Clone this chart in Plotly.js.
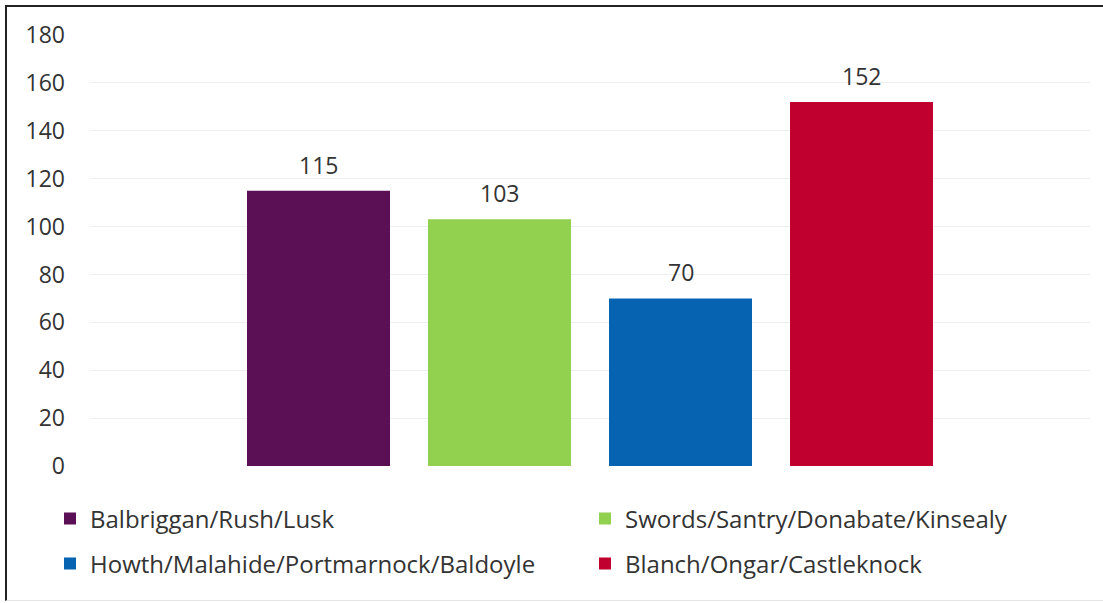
<!DOCTYPE html>
<html>
<head>
<meta charset="utf-8">
<script src="https://cdn.plot.ly/plotly-3.0.1.min.js"></script>
<style>
  html, body { margin: 0; padding: 0; background: #fff; }
  #wrap { position: relative; width: 1103px; height: 603px; overflow: hidden; }
  #chart { position: absolute; left: 0; top: 0; width: 1103px; height: 603px; }
  #frame { position: absolute; left: 5px; top: 5px; width: 1110px; height: 593px;
           border-left: 2px solid #222; border-top: 2px solid #222; border-bottom: 1px solid #e6e6e6;
           pointer-events: none; }
</style>
</head>
<body>
<div id="wrap">
  <div id="chart"></div>
  <div id="frame"></div>
</div>
<script>
// ---- data ----
const category = ['Fingal'];
const seriesNames = [
  'Balbriggan/Rush/Lusk',
  'Swords/Santry/Donabate/Kinsealy',
  'Howth/Malahide/Portmarnock/Baldoyle',
  'Blanch/Ongar/Castleknock'
];
const seriesValues = [115, 103, 70, 152];
const seriesColors = ['#5B0F55', '#92D050', '#0563B1', '#C0002F'];
const yTickValues = [0, 20, 40, 60, 80, 100, 120, 140, 160, 180];

// ---- chart ----
const FONT = 'Open Sans, sans-serif';
const TEXT = '#333333';
const bargap = 0.276;
const n = seriesValues.length;
const legendIds = ['legend', 'legend2', 'legend3', 'legend4'];

const traces = seriesValues.map((v, i) => ({
  type: 'bar',
  name: seriesNames[i],
  x: category,
  y: [v],
  marker: { color: seriesColors[i] },
  legend: legendIds[i],
  hoverinfo: 'name+y'
}));

const annotations = seriesValues.map((v, i) => ({
  xref: 'x', yref: 'y',
  x: (i - (n - 1) / 2) * (1 - bargap) / n,
  y: v,
  text: String(v),
  showarrow: false,
  yanchor: 'middle',
  yshift: 26,
  font: { family: FONT, size: 23, color: TEXT }
}));

const legendCommon = {
  orientation: 'h',
  xref: 'container', yref: 'container',
  xanchor: 'left', yanchor: 'middle',
  font: { family: FONT, size: 24, color: TEXT },
  bgcolor: 'rgba(0,0,0,0)',
  itemclick: false, itemdoubleclick: false
};
// legend slots: two columns, two rows
const legendCols = [50, 585];
const legendRows = [519, 564];

const layout = {
  width: 1103, height: 603,
  margin: { l: 90, r: 13, t: 35, b: 137, pad: 0 },
  paper_bgcolor: '#ffffff',
  plot_bgcolor: '#ffffff',
  barmode: 'group',
  bargap: bargap,
  bargroupgap: 0.21,
  showlegend: true,
  font: { family: FONT, color: TEXT },
  xaxis: {
    type: 'category',
    showticklabels: false,
    showgrid: false,
    zeroline: false,
    showline: false,
    ticks: ''
  },
  yaxis: {
    range: [0, 180],
    tickvals: yTickValues,
    ticktext: yTickValues.map(String),
    showgrid: true,
    gridcolor: '#eeeeee',
    gridwidth: 1,
    zeroline: false,
    showline: false,
    ticks: '',
    ticklabelstandoff: 24,
    tickfont: { family: FONT, size: 23, color: TEXT }
  },
  annotations: annotations
};
legendIds.forEach((id, i) => {
  layout[id] = Object.assign({}, legendCommon, {
    x: legendCols[i % 2] / 1103,
    y: 1 - legendRows[Math.floor(i / 2)] / 603
  });
});

Plotly.newPlot('chart', traces, layout, { displayModeBar: false, staticPlot: true });
</script>
</body>
</html>
